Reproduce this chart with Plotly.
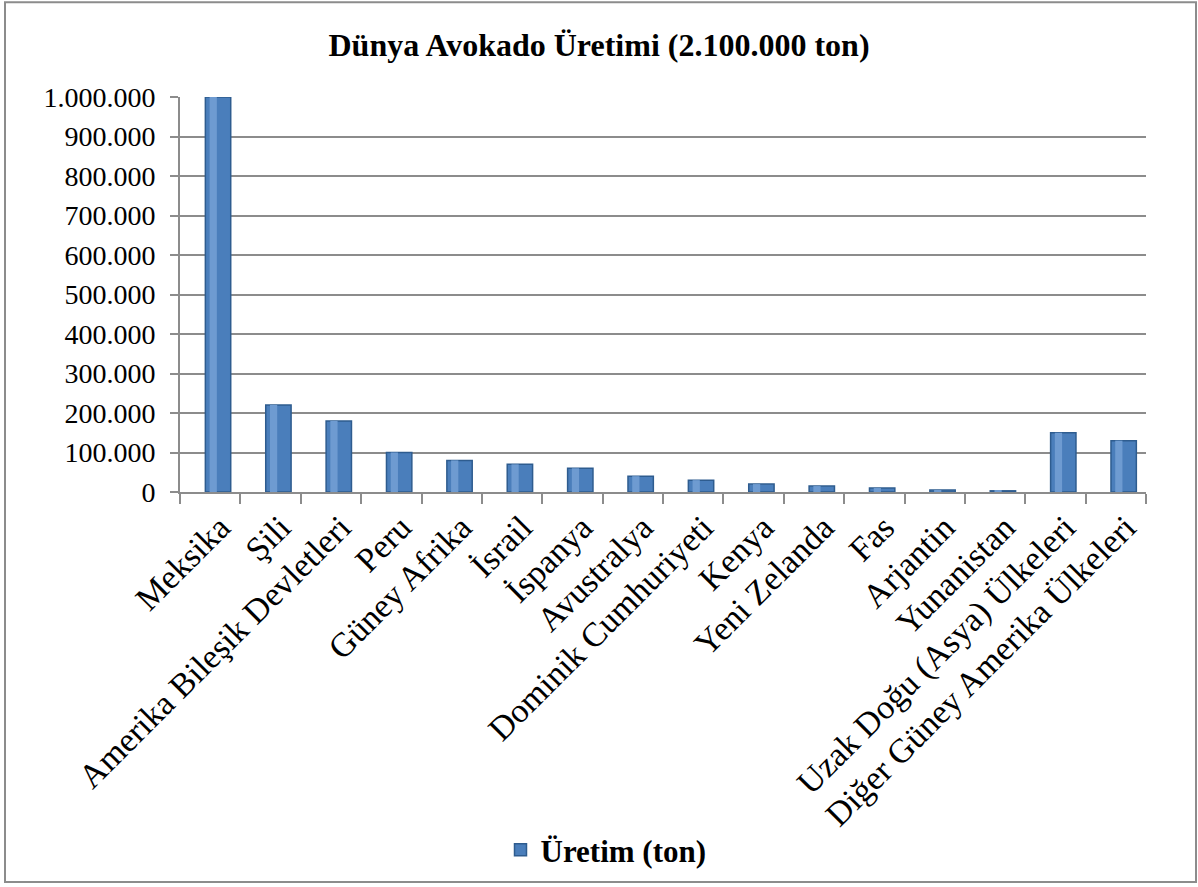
import plotly.graph_objects as go

categories = ["Meksika", "Şili", "Amerika Bileşik Devletleri", "Peru", "Güney Afrika",
              "İsrail", "İspanya", "Avustralya", "Dominik Cumhuriyeti", "Kenya",
              "Yeni Zelanda", "Fas", "Arjantin", "Yunanistan",
              "Uzak Doğu (Asya) Ülkeleri", "Diğer Güney Amerika Ülkeleri"]
uretim = [1000000, 220000, 180000, 100000, 80000, 70000, 60000, 40000, 30000,
          20000, 15000, 10000, 5000, 3000, 150000, 130000]
y_ticks = [0, 100000, 200000, 300000, 400000, 500000, 600000, 700000, 800000, 900000, 1000000]
y_tick_text = ["0", "100.000", "200.000", "300.000", "400.000", "500.000", "600.000",
               "700.000", "800.000", "900.000", "1.000.000"]

W, H = 1198, 887
ML, MR, MT, MB = 180, 52, 97, 394

font = "Liberation Serif"

plot_w = W - ML - MR
plot_h = H - MT - MB

fig = go.Figure()
fig.add_trace(go.Bar(
    x=categories, y=uretim, name="<b>Üretim (ton)</b>",
    marker=dict(color="#4A7EBB", line=dict(color="#2E5C8F", width=1.5)),
    width=0.42, offset=-0.08,
))
# highlight stripe to suggest cylinder shading
fig.add_trace(go.Bar(
    x=categories, y=uretim, showlegend=False, hoverinfo="skip",
    marker=dict(color="#6E9BD1", line=dict(width=0)),
    width=0.12, offset=-0.01,
))

fig.add_shape(type="rect", xref="paper", yref="paper",
              x0=(5 - ML) / plot_w, x1=(1196 - ML) / plot_w,
              y0=(H - MB - 884) / plot_h, y1=(H - MB - 2) / plot_h,
              line=dict(color="#8C8C8C", width=2), layer="below")

fig.update_layout(
    width=W, height=H,
    margin=dict(l=ML, r=MR, t=MT, b=MB),
    paper_bgcolor="white", plot_bgcolor="white",
    barmode="overlay",
    title=dict(text="<b>Dünya Avokado Üretimi (2.100.000 ton)</b>",
               x=0.5, xref="container", xanchor="center", y=1 - 45 / H, yanchor="middle",
               font=dict(family=font, size=32, color="black")),
    xaxis=dict(
        tickangle=-45, tickfont=dict(family=font, size=34, color="black"),
        ticks="outside", tickson="boundaries", ticklen=10, tickcolor="#8C8C8C", tickwidth=2,
        ticklabelshift=10,
        showline=True, linecolor="#8C8C8C", linewidth=2, showgrid=False,
        range=[-0.5, 15.5],
    ),
    yaxis=dict(
        range=[0, 1000000], tickvals=y_ticks, ticktext=y_tick_text,
        tickfont=dict(family=font, size=28, color="black"),
        ticks="outside", ticklen=8, tickcolor="#8C8C8C", tickwidth=2,
        ticklabelstandoff=9,
        showline=True, linecolor="#8C8C8C", linewidth=2,
        showgrid=True, gridcolor="#8C8C8C", gridwidth=2, zeroline=False,
    ),
    legend=dict(orientation="h", x=(606 - ML) / plot_w, xanchor="center",
                y=-(850 - (H - MB)) / plot_h, yanchor="middle",
                font=dict(family=font, size=31, color="black"),
                itemwidth=30),
    showlegend=True,
)

fig.write_html("out.html")
